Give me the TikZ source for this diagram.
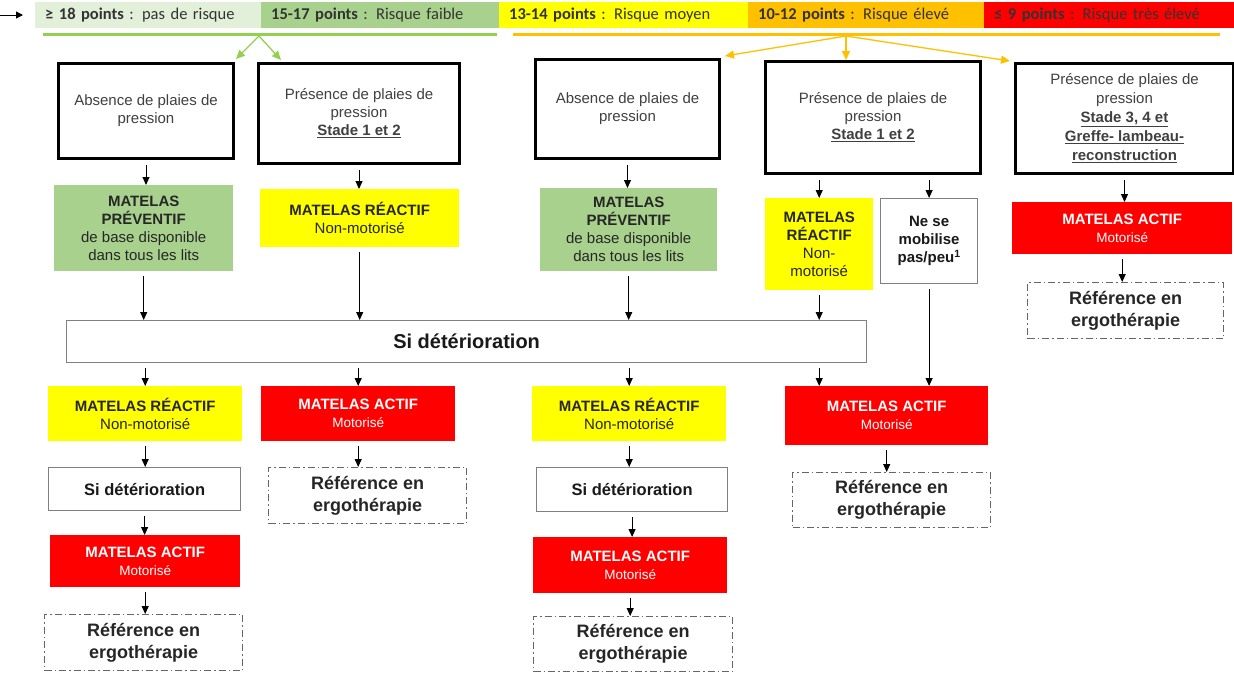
\documentclass[tikz,border=0pt]{standalone}
\usepackage{fontspec}
\setmainfont{Liberation Sans}
\newfontfamily\barfont{Carlito}
\usetikzlibrary{arrows.meta}
\definecolor{vertpale}{HTML}{E2EFD9}
\definecolor{vert}{HTML}{A9D18E}
\definecolor{vertligne}{HTML}{92D050}
\definecolor{jaune}{HTML}{FFFF00}
\definecolor{orangebar}{HTML}{FFC000}
\definecolor{rouge}{HTML}{FF0000}
\definecolor{texte}{HTML}{404040}
\begin{document}
\begin{tikzpicture}[x=1pt,y=-1pt,
  every node/.style={inner sep=0pt, align=center, anchor=north west},
  sz/.style 2 args={minimum width=#1, minimum height=#2},
  seg/.style={minimum height=26pt, inner xsep=10pt, align=left, text=black!80,
    font=\barfont\fontsize{16.5}{18}\selectfont},
  thickbox/.style={draw=black, line width=3pt, fill=white, text=texte,
    font=\fontsize{15}{18}\selectfont},
  greybox/.style={draw=gray, line width=1.2pt, fill=white, text=black!90},
  refbox/.style={draw=gray!80!black, line width=1.1pt,
    dash pattern=on 7pt off 3pt on 1.5pt off 3pt, text=black!85,
    font=\bfseries\fontsize{18}{22}\selectfont},
  greenbox/.style={fill=vert, text=black!85, font=\fontsize{15}{18}\selectfont},
  yellowbox/.style={fill=jaune, text=black!85, font=\fontsize{15}{18}\selectfont},
  redbox/.style={fill=rouge, text=white, font=\fontsize{15}{18}\selectfont},
  arr/.style={-{Triangle[length=8pt,width=7pt]}, line width=1pt, shorten <=5pt},
  garr/.style={-{Triangle[length=9pt,width=8pt]}, line width=1.3pt, draw=vertligne},
  oarr/.style={-{Triangle[length=9pt,width=8pt]}, line width=1.3pt, draw=orangebar},
]
\useasboundingbox (0,0) rectangle (1234,673);

% score scale
\node[seg, fill=vertpale, text width=206pt] (s1) at (35,2) {\textbf{≥ 18 points} : pas de risque};
\node[seg, fill=vert, text width=218pt] (s2) at (261,2) {\textbf{15-17 points} : Risque faible};
\node[seg, fill=jaune, text width=229pt] (s3) at (499,2) {\textbf{13-14 points} : Risque moyen};
\node[seg, fill=orangebar, text width=216pt] (s4) at (748,2) {\textbf{10-12 points} : Risque élevé};
\node[seg, fill=rouge, text width=230pt] (s5) at (984,2) {\textbf{≤ 9 points} : Risque très élevé};
\coordinate (fl) at (0,15);
\draw[-{Triangle[length=7pt,width=7pt]}, line width=1pt, shorten >=12pt] (fl) -- (fl -| s1.west);

% grouping lines
\coordinate (gl1) at (43,34);
\coordinate (gl2) at (497,34);
\coordinate (ol1) at (513,34);
\coordinate (ol2) at (1220,34);
\draw[vertligne, line width=3pt] (gl1) -- (gl2);
\draw[orangebar, line width=3pt] (ol1) -- (ol2);
\coordinate (go) at (259,36);
\coordinate (oo) at (846,36);

% first row
\node[thickbox, sz={175pt}{95pt}] (B1) at (57,62) {Absence de plaies de\\pression};
\node[thickbox, sz={201pt}{100pt}] (B2) at (257,62) {Présence de plaies de\\pression\\\textbf{\underline{Stade 1 et 2}}};
\node[thickbox, sz={184pt}{99pt}] (B3) at (534,58) {Absence de plaies de\\pression};
\node[thickbox, sz={215pt}{112pt}] (B4) at (764,60) {Présence de plaies de\\pression\\\textbf{\underline{Stade 1 et 2}}};
\node[thickbox, sz={218pt}{110pt}, font=\fontsize{15}{19}\selectfont] (B5) at (1014,62) {Présence de plaies de\\pression\\\textbf{\underline{Stade 3, 4 et}}\\\textbf{\underline{Greffe- lambeau-}}\\\textbf{\underline{reconstruction}}};

\draw[garr] (go) -- ([xshift=1pt,yshift=3pt]B1.north east);
\draw[garr] (go) -- ([xshift=24pt,yshift=2pt]B2.north west);
\draw[oarr] (oo) -- ([xshift=4pt,yshift=2pt]B3.north east);
\draw[oarr] (oo) -- (oo |- B4.north);
\draw[oarr] (oo) -- ([xshift=-4pt,yshift=1pt]B5.north west);

% second row
\node[greenbox, sz={179pt}{86pt}] (G1) at (54,185) {\textbf{MATELAS}\\\textbf{PRÉVENTIF}\\de base disponible\\dans tous les lits};
\node[yellowbox, sz={199pt}{58pt}] (Y1) at (260,189) {\textbf{MATELAS RÉACTIF}\\Non-motorisé};
\node[greenbox, sz={177pt}{83pt}] (G2) at (540,188) {\textbf{MATELAS}\\\textbf{PRÉVENTIF}\\de base disponible\\dans tous les lits};
\node[yellowbox, sz={108pt}{92pt}] (Y2) at (765,198) {\textbf{MATELAS}\\\textbf{RÉACTIF}\\Non-\\motorisé};
\node[greybox, sz={97pt}{85pt}, font=\bfseries\fontsize{15}{18}\selectfont] (W) at (880,198) {Ne se\\mobilise\\pas/peu\textsuperscript{1}};
\node[redbox, sz={220pt}{52pt}] (R1) at (1012,202) {\textbf{MATELAS ACTIF}\\{\fontsize{13.5}{16}\selectfont Motorisé}};
\node[refbox, sz={196pt}{56pt}] (D1) at (1027,282) {Référence en\\ergothérapie};

\draw[arr] (B1.south) -- (B1.south |- G1.north);
\draw[arr] (B2.south) -- (B2.south |- Y1.north);
\draw[arr] (B3.south) -- (B3.south |- G2.north);
\draw[arr] (Y2.north |- B4.south) -- (Y2.north);
\draw[arr] (W.north |- B4.south) -- (W.north);
\draw[arr] (B5.south) -- (B5.south |- R1.north);
\draw[arr] (R1.south) -- (R1.south |- D1.north);

% deterioration band
\node[greybox, sz={800pt}{42pt}, font=\bfseries\fontsize{20}{24}\selectfont] (SD) at (66,320) {Si détérioration};
\draw[arr] (G1.south) -- (G1.south |- SD.north);
\draw[arr] (Y1.south) -- (Y1.south |- SD.north);
\draw[arr] (G2.south) -- (G2.south |- SD.north);
\draw[arr] (Y2.south) -- (Y2.south |- SD.north);

% third row
\node[yellowbox, sz={194pt}{55pt}] (Y3) at (48,386) {\textbf{MATELAS RÉACTIF}\\Non-motorisé};
\node[redbox, sz={194pt}{55pt}] (R2) at (261,386) {\textbf{MATELAS ACTIF}\\{\fontsize{13.5}{16}\selectfont Motorisé}};
\node[yellowbox, sz={194pt}{55pt}] (Y4) at (532,386) {\textbf{MATELAS RÉACTIF}\\Non-motorisé};
\node[redbox, sz={203pt}{59pt}] (R3) at (785,386) {\textbf{MATELAS ACTIF}\\{\fontsize{13.5}{16}\selectfont Motorisé}};

\draw[arr] (Y3.north |- SD.south) -- (Y3.north);
\draw[arr] (R2.north |- SD.south) -- (R2.north);
\draw[arr] (Y4.north |- SD.south) -- (Y4.north);
\draw[arr] (Y2.south |- SD.south) -- (Y2.south |- R3.north);
\draw[arr] (W.south) -- (W.south |- R3.north);

% fourth row
\node[greybox, sz={192pt}{43pt}, font=\bfseries\fontsize{16.5}{19}\selectfont] (S1) at (48,467) {Si détérioration};
\node[refbox, sz={198pt}{56pt}] (D2) at (268,467) {Référence en\\ergothérapie};
\node[greybox, sz={191pt}{44pt}, font=\bfseries\fontsize{16.5}{19}\selectfont] (S2) at (536,467) {Si détérioration};
\node[refbox, sz={198pt}{55pt}] (D3) at (792,472) {Référence en\\ergothérapie};

\draw[arr] (Y3.south) -- (Y3.south |- S1.north);
\draw[arr] (R2.south) -- (R2.south |- D2.north);
\draw[arr] (Y4.south) -- (Y4.south |- S2.north);
\draw[arr] (R3.south) -- (R3.south |- D3.north);

% fifth and sixth rows
\node[redbox, sz={190pt}{52pt}] (R4) at (50,535) {\textbf{MATELAS ACTIF}\\{\fontsize{13.5}{16}\selectfont Motorisé}};
\node[redbox, sz={194pt}{56pt}] (R5) at (533,537) {\textbf{MATELAS ACTIF}\\{\fontsize{13.5}{16}\selectfont Motorisé}};
\node[refbox, sz={198pt}{56pt}] (D4) at (44,614) {Référence en\\ergothérapie};
\node[refbox, sz={199pt}{55pt}] (D5) at (533,616) {Référence en\\ergothérapie};

\draw[arr] (S1.south) -- (S1.south |- R4.north);
\draw[arr] (R4.south) -- (R4.south |- D4.north);
\draw[arr] (S2.south) -- (S2.south |- R5.north);
\draw[arr] (R5.south) -- (R5.south |- D5.north);
\end{tikzpicture}
\end{document}
